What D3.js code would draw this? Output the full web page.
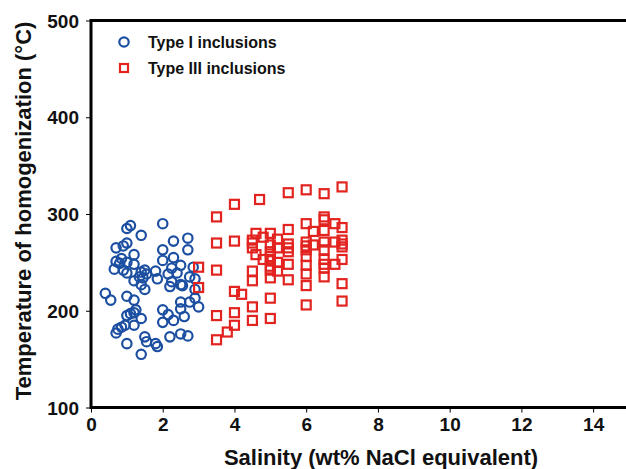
<!DOCTYPE html>
<html>
<head>
<meta charset="utf-8">
<script src="https://cdn.jsdelivr.net/npm/d3@7"></script>
<style>
  body { margin: 0; background: #fff; }
  svg { display: block; font-family: Arial, "Liberation Sans", sans-serif; }
</style>
</head>
<body>
<svg id="chart"></svg>
<script>
// Type I inclusions: [salinity, Th]
var typeI = [
  [1.0, 285], [1.1, 288], [2.0, 290], [1.4, 278],
  [2.3, 272], [2.7, 275], [0.7, 265], [0.9, 267], [1.0, 270],
  [2.0, 263], [2.7, 263], [1.2, 258], [0.7, 251], [0.85, 254],
  [0.8, 249], [1.0, 250], [1.2, 248], [2.0, 252], [2.3, 255],
  [2.5, 247], [2.25, 244], [2.85, 245], [0.65, 243], [0.9, 242],
  [1.0, 239], [1.4, 240], [1.5, 242], [1.55, 238], [1.35, 235],
  [1.45, 234], [1.8, 241], [1.85, 233], [2.15, 238], [2.4, 239],
  [2.75, 235], [2.9, 233], [1.2, 231], [1.4, 227], [2.25, 230],
  [2.2, 225], [2.5, 227], [2.55, 226], [2.9, 222], [1.5, 222],
  [0.4, 218], [0.55, 211], [1.0, 215], [1.2, 211], [2.5, 209],
  [2.75, 209], [2.9, 213], [3.0, 204],
  [2.0, 201], [2.15, 196], [2.5, 202], [2.6, 194], [1.0, 195],
  [1.1, 197], [1.2, 198], [1.25, 201], [1.4, 192], [1.2, 185],
  [2.0, 188], [2.3, 190], [0.7, 177], [0.75, 181], [0.85, 183],
  [0.95, 185], [1.5, 173], [1.55, 168], [1.8, 166], [1.85, 163],
  [2.2, 173], [2.5, 176], [2.7, 174], [1.0, 166], [1.4, 155]
];

// Type III inclusions: [salinity, Th]
var typeIII = [
  [3.5, 297], [4.0, 310], [4.7, 315], [5.5, 322], [6.0, 325], [6.5, 321], [7.0, 328],
  [3.0, 245], [3.0, 224],
  [3.5, 270], [4.0, 272], [3.5, 242], [3.5, 195], [3.5, 170], [3.8, 178], [4.0, 185],
  [4.0, 198], [4.0, 220], [4.2, 217],
  [4.5, 204], [4.5, 190], [5.0, 192], [5.0, 213], [4.5, 241], [4.5, 231], [5.0, 234], [5.2, 241],
  [5.5, 248], [5.5, 232], [5.5, 284], [5.5, 269], [5.5, 265], [5.5, 261],
  [6.0, 290], [6.2, 282], [6.0, 271], [6.0, 267], [6.0, 263], [6.0, 256], [6.0, 247],
  [6.0, 238], [6.0, 226], [6.0, 206], [6.2, 268],
  [6.5, 297], [6.5, 294], [6.5, 283], [6.5, 271], [6.5, 263], [6.5, 253], [6.5, 248],
  [6.5, 244], [6.5, 235],
  [6.8, 290], [6.8, 271], [6.8, 248],
  [7.0, 286], [7.0, 273], [7.0, 269], [7.0, 266], [7.0, 253], [7.0, 228], [7.0, 210],
  [4.6, 280], [4.5, 273], [4.5, 270], [4.5, 265], [4.6, 258], [4.8, 276], [5.0, 280],
  [5.0, 268], [5.0, 261], [5.0, 256], [5.0, 253], [5.0, 246], [5.0, 242], [4.8, 253],
  [5.2, 274], [5.2, 265], [5.2, 250]
];

var xTicks = [0, 2, 4, 6, 8, 10, 12, 14];
var yTicks = [100, 200, 300, 400, 500];
var legendLabels = ["Type I inclusions", "Type III inclusions"];

var width = 626, height = 469;
var margin = {top: 20.5, right: -3, bottom: 61.5, left: 91};
var blue = "#1c4fa1", red = "#e2231f";

var x = d3.scaleLinear()
    .domain([0, 15])
    .range([margin.left, width - margin.right]);

var y = d3.scaleLinear()
    .domain([100, 500])
    .range([height - margin.bottom, margin.top]);

var svg = d3.select("#chart")
    .attr("width", width)
    .attr("height", height);

// axes
var xAxis = g => g
    .attr("transform", `translate(0,${y(100)})`)
    .call(d3.axisBottom(x).tickValues(xTicks).tickSize(5).tickPadding(5))
    .call(g => g.select(".domain").remove())
    .call(g => g.selectAll("text")
        .attr("font-size", 19).attr("font-weight", "bold").attr("fill", "#111"));

var yAxis = g => g
    .attr("transform", `translate(${x(0)},0)`)
    .call(d3.axisLeft(y).tickValues(yTicks).tickSize(5).tickPadding(7))
    .call(g => g.select(".domain").remove())
    .call(g => g.selectAll("text")
        .attr("font-size", 19).attr("font-weight", "bold").attr("fill", "#111")
        .attr("dy", "0.35em"));

svg.append("g").call(xAxis);
svg.append("g").call(yAxis);

// frame
svg.append("rect")
    .attr("x", x(0))
    .attr("y", y(500))
    .attr("width", x(15) - x(0))
    .attr("height", y(100) - y(500))
    .attr("fill", "none")
    .attr("stroke", "#000")
    .attr("stroke-width", 3);

// points
svg.append("g")
    .selectAll("circle")
    .data(typeI)
    .join("circle")
    .attr("cx", d => x(d[0]))
    .attr("cy", d => y(d[1]))
    .attr("r", 4.7)
    .attr("fill", "none")
    .attr("stroke", blue)
    .attr("stroke-width", 2.2);

svg.append("g")
    .selectAll("rect")
    .data(typeIII)
    .join("rect")
    .attr("x", d => x(d[0]) - 4.5)
    .attr("y", d => y(d[1]) - 4.5)
    .attr("width", 9)
    .attr("height", 9)
    .attr("fill", "none")
    .attr("stroke", red)
    .attr("stroke-width", 2.2);

// legend
var legend = svg.append("g");
legend.append("circle")
    .attr("cx", 124).attr("cy", 42).attr("r", 4.7)
    .attr("fill", "none").attr("stroke", blue).attr("stroke-width", 2.2);
legend.append("rect")
    .attr("x", 124 - 4).attr("y", 68 - 4).attr("width", 8).attr("height", 8)
    .attr("fill", "none").attr("stroke", red).attr("stroke-width", 2.2);
legend.selectAll("text")
    .data(legendLabels)
    .join("text")
    .attr("x", 148)
    .attr("y", (d, i) => 42 + i * 26)
    .attr("dy", "0.35em")
    .attr("font-size", 16)
    .attr("font-weight", "bold")
    .attr("fill", "#111")
    .text(d => d);

// axis titles
svg.append("text")
    .attr("x", 381)
    .attr("y", 465)
    .attr("text-anchor", "middle")
    .attr("font-size", 22)
    .attr("font-weight", "bold")
    .attr("fill", "#111")
    .text("Salinity (wt% NaCl equivalent)");

svg.append("text")
    .attr("transform", `translate(31,211) rotate(-90)`)
    .attr("text-anchor", "middle")
    .attr("font-size", 22)
    .attr("font-weight", "bold")
    .attr("fill", "#111")
    .text("Temperature of homogenization (°C)");
</script>
</body>
</html>
